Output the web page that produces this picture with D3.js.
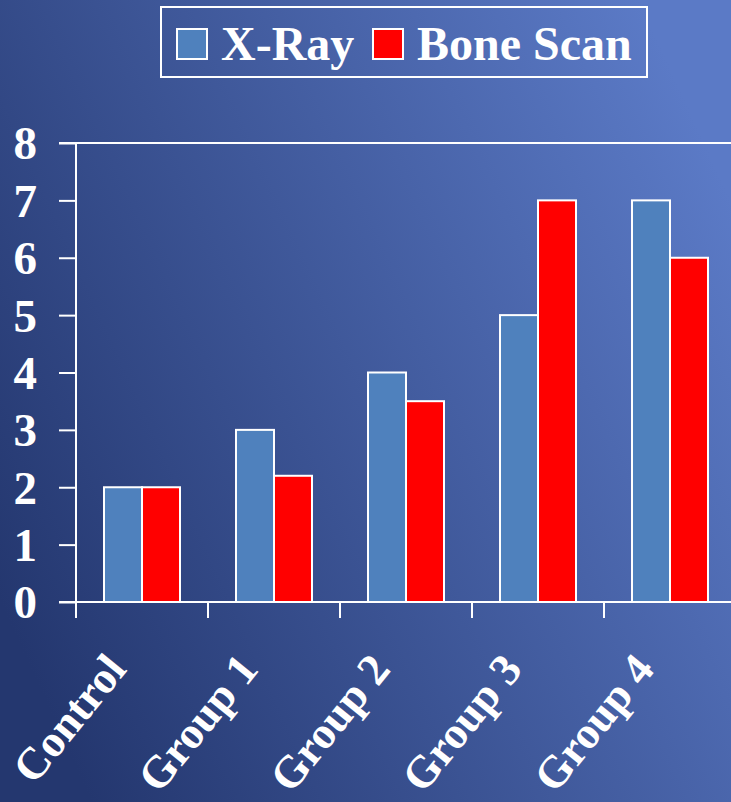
<!DOCTYPE html>
<html>
<head>
<meta charset="utf-8">
<script src="https://cdn.jsdelivr.net/npm/d3@7"></script>
<style>
  html, body { margin: 0; padding: 0; background: #3a5296; }
  svg { display: block; }
  text { font-family: "Liberation Serif", "Times New Roman", serif; font-weight: bold; fill: #fff; }
</style>
</head>
<body>
<script>
// data
const categories = ['Control', 'Group 1', 'Group 2', 'Group 3', 'Group 4'];
const seriesNames = ['X-Ray', 'Bone Scan'];
const xray = [2, 3, 4, 5, 7];
const boneScan = [2, 2.2, 3.5, 7, 6];
const yTicks = [0, 1, 2, 3, 4, 5, 6, 7, 8];
const colors = ['#4f81bd', '#ff0000'];

const W = 731, H = 802;
const margin = {top: 143, left: 76, bottom: 200};

const svg = d3.select('body').append('svg')
  .attr('width', W)
  .attr('height', H);

// background gradient, mostly left to right
const defs = svg.append('defs');
const grad = defs.append('linearGradient')
  .attr('id', 'bg')
  .attr('x1', '0%').attr('y1', '75%')
  .attr('x2', '100%').attr('y2', '25%');
grad.append('stop').attr('offset', '0%').attr('stop-color', '#24376f');
grad.append('stop').attr('offset', '100%').attr('stop-color', '#5b7ac6');
svg.append('rect').attr('width', W).attr('height', H).attr('fill', 'url(#bg)');

// scales
const x0 = d3.scaleBand().domain(categories).range([margin.left, margin.left + 132 * categories.length]);
const x1 = d3.scaleBand().domain(seriesNames).range([28, 104]);
const y = d3.scaleLinear().domain([0, 8]).range([602, margin.top]);

const rows = categories.map((c, i) => ({cat: c, values: [xray[i], boneScan[i]]}));

// top border line
svg.append('line')
  .attr('x1', 59).attr('x2', W)
  .attr('y1', y(8)).attr('y2', y(8))
  .attr('stroke', '#fff').attr('stroke-width', 2);

// bars
const groups = svg.selectAll('g.grp').data(rows).join('g')
  .attr('class', 'grp')
  .attr('transform', (d) => `translate(${x0(d.cat)},0)`);

groups.selectAll('rect').data((d) => d.values.map((v, i) => ({key: seriesNames[i], v: v, i: i}))).join('rect')
  .attr('x', (d) => x1(d.key))
  .attr('width', x1.bandwidth())
  .attr('y', (d) => y(d.v))
  .attr('height', (d) => y(0) - y(d.v))
  .attr('fill', (d) => colors[d.i])
  .attr('stroke', '#fff')
  .attr('stroke-width', 2);

// y axis
const yaxis = d3.axisLeft(y).tickValues(yTicks).tickSize(17).tickPadding(22).tickFormat(d3.format('d'));
const g_y = svg.append('g').attr('transform', `translate(${margin.left},0)`).call(yaxis);
g_y.select('.domain').remove();
g_y.selectAll('.tick line').attr('stroke', '#fff').attr('stroke-width', 2);
g_y.selectAll('.tick text').attr('font-size', 47).attr('dy', '0.34em')
  .style('font-family', '"Liberation Serif", serif').style('font-weight', 'bold').attr('fill', '#fff');
svg.append('line')
  .attr('x1', margin.left).attr('x2', margin.left)
  .attr('y1', y(8)).attr('y2', 618)
  .attr('stroke', '#fff').attr('stroke-width', 2);

// x axis
svg.append('line')
  .attr('x1', 59).attr('x2', W)
  .attr('y1', y(0)).attr('y2', y(0))
  .attr('stroke', '#fff').attr('stroke-width', 2);
svg.selectAll('line.xtick').data(categories).join('line')
  .attr('class', 'xtick')
  .attr('x1', (d) => x0(d)).attr('x2', (d) => x0(d))
  .attr('y1', y(0)).attr('y2', 618)
  .attr('stroke', '#fff').attr('stroke-width', 2);
svg.selectAll('text.xlab').data(categories).join('text')
  .attr('class', 'xlab')
  .attr('text-anchor', 'end')
  .attr('font-size', 45)
  .attr('transform', (d) => `translate(${x0(d) + x0.bandwidth() / 2 - 14},670) rotate(-51)`)
  .text((d) => d);

// legend
const legend = svg.append('g');
legend.append('rect')
  .attr('x', 161).attr('y', 7).attr('width', 486).attr('height', 70)
  .attr('fill', 'none').attr('stroke', '#fff').attr('stroke-width', 2);
const legX = [177, 373];
const items = legend.selectAll('g.item').data(seriesNames).join('g')
  .attr('class', 'item')
  .attr('transform', (d, i) => `translate(${legX[i]},29)`);
items.append('rect')
  .attr('width', 30).attr('height', 30)
  .attr('fill', (d, i) => colors[i])
  .attr('stroke', '#fff').attr('stroke-width', 2);
items.append('text')
  .attr('x', 44).attr('y', 31)
  .attr('font-size', 48)
  .text((d) => d);
</script>
</body>
</html>
